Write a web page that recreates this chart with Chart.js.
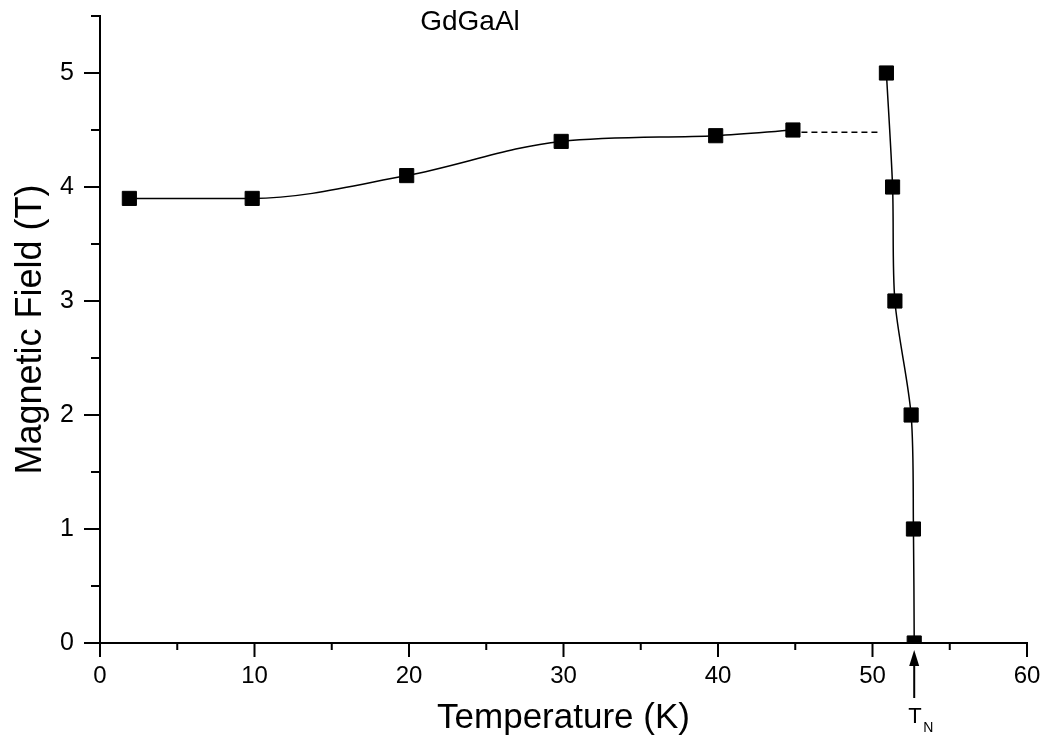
<!DOCTYPE html>
<html>
<head>
<meta charset="utf-8">
<script src="https://cdn.jsdelivr.net/npm/chart.js@4/dist/chart.umd.min.js"></script>
<style>
    body { margin: 0; background: #fff; }
    #wrap { width: 1045px; height: 740px; position: relative; }
</style>
</head>
<body>
<div id="wrap"><canvas id="phaseChart"></canvas></div>
<script>
// Data
const lowTemp = [1.9, 9.85, 19.85, 29.85, 39.85, 44.85];
const lowField = [3.9, 3.9, 4.1, 4.4, 4.45, 4.5];
const highTemp = [52.7, 52.65, 52.5, 51.45, 51.3, 50.9];
const highField = [0, 1, 2, 3, 4, 5];
const dashTemp = [45.4, 50.45];
const dashField = [4.48, 4.48];
const tN = 52.7;
const xTicks = [0, 10, 20, 30, 40, 50, 60];
const yTicks = [0, 1, 2, 3, 4, 5];

const FONT = "'Liberation Sans', Arial, sans-serif";

function toPoints(xs, ys) {
    return xs.map((x, i) => ({ x: x, y: ys[i] }));
}

// no extra room for overhanging tick labels, the layout padding handles it
function noLabelPadding(scale) {
    scale.paddingTop = 0;
    scale.paddingBottom = 0;
    scale.paddingLeft = 0;
    scale.paddingRight = 0;
}

// draws major / minor tick marks, the title and the T_N arrow
const decorPlugin = {
    id: 'decor',
    afterDraw(chart) {
        const ctx = chart.ctx;
        const xs = chart.scales.x;
        const ys = chart.scales.y;
        const area = chart.chartArea;
        ctx.save();
        ctx.strokeStyle = '#000';
        ctx.lineWidth = 2;
        ctx.beginPath();
        for (let v = 0; v <= 60; v += 5) {
            const px = xs.getPixelForValue(v);
            const len = xTicks.includes(v) ? 14 : 7;
            ctx.moveTo(px, area.bottom);
            ctx.lineTo(px, area.bottom + len);
        }
        for (let v = 0; v <= 5.5; v += 0.5) {
            const py = ys.getPixelForValue(v);
            const len = yTicks.includes(v) ? 16 : 9;
            ctx.moveTo(area.left, py);
            ctx.lineTo(area.left - len, py);
        }
        ctx.stroke();

        // T_N arrow
        const ax = xs.getPixelForValue(tN);
        ctx.lineWidth = 2;
        ctx.beginPath();
        ctx.moveTo(ax, 698);
        ctx.lineTo(ax, 662);
        ctx.stroke();
        ctx.fillStyle = '#000';
        ctx.beginPath();
        ctx.moveTo(ax, 650);
        ctx.lineTo(ax - 5, 666);
        ctx.lineTo(ax + 5, 666);
        ctx.closePath();
        ctx.fill();

        ctx.textBaseline = 'alphabetic';
        ctx.textAlign = 'left';
        ctx.font = '22px ' + FONT;
        ctx.fillText('T', ax - 6, 723);
        ctx.font = '14px ' + FONT;
        ctx.fillText('N', ax + 9, 732);

        // title
        ctx.font = '28px ' + FONT;
        ctx.textAlign = 'center';
        ctx.fillText('GdGaAl', 470, 30);
        ctx.restore();
    }
};

const config = {
    type: 'scatter',
    data: {
        datasets: [
            {
                data: toPoints(lowTemp, lowField),
                showLine: true,
                borderColor: '#000',
                borderWidth: 1.5,
                cubicInterpolationMode: 'monotone',
                pointStyle: 'rect',
                pointRadius: 10,
                pointBorderWidth: 1,
                pointBackgroundColor: '#000',
                pointBorderColor: '#000'
            },
            {
                data: toPoints(highTemp, highField),
                showLine: true,
                borderColor: '#000',
                borderWidth: 1.5,
                tension: 0.3,
                pointStyle: 'rect',
                pointRadius: 10,
                pointBorderWidth: 1,
                pointBackgroundColor: '#000',
                pointBorderColor: '#000'
            },
            {
                data: toPoints(dashTemp, dashField),
                showLine: true,
                borderColor: '#000',
                borderWidth: 1.5,
                borderDash: [6, 4],
                pointRadius: 0
            }
        ]
    },
    options: {
        responsive: true,
        maintainAspectRatio: false,
        animation: false,
        layout: { padding: { top: 16, right: 18, left: 0, bottom: 0 } },
        plugins: {
            legend: { display: false },
            tooltip: { enabled: false }
        },
        scales: {
            x: {
                type: 'linear',
                min: 0,
                max: 60,
                afterFit: scale => { scale.height = 97; noLabelPadding(scale); },
                afterBuildTicks: scale => { scale.ticks = xTicks.map(v => ({ value: v })); },
                grid: { display: false, drawTicks: false },
                border: { display: true, color: '#000', width: 2 },
                ticks: {
                    color: '#000',
                    padding: 19,
                    maxRotation: 0,
                    font: { family: FONT, size: 24 }
                },
                title: {
                    display: true,
                    text: 'Temperature (K)',
                    color: '#000',
                    font: { family: FONT, size: 35, lineHeight: 1.2 },
                    padding: { top: 0, bottom: 1 }
                }
            },
            y: {
                type: 'linear',
                min: 0,
                max: 5.5,
                afterFit: scale => { scale.width = 100; noLabelPadding(scale); },
                afterBuildTicks: scale => { scale.ticks = yTicks.map(v => ({ value: v })); },
                grid: { display: false, drawTicks: false },
                border: { display: true, color: '#000', width: 2 },
                ticks: {
                    color: '#000',
                    padding: 26,
                    font: { family: FONT, size: 25 }
                },
                title: {
                    display: true,
                    text: 'Magnetic Field (T)',
                    color: '#000',
                    font: { family: FONT, size: 36, lineHeight: 1.2 },
                    padding: { top: 9, bottom: 0 }
                }
            }
        }
    },
    plugins: [decorPlugin]
};

const phaseChart = new Chart(document.getElementById('phaseChart'), config);
</script>
</body>
</html>
